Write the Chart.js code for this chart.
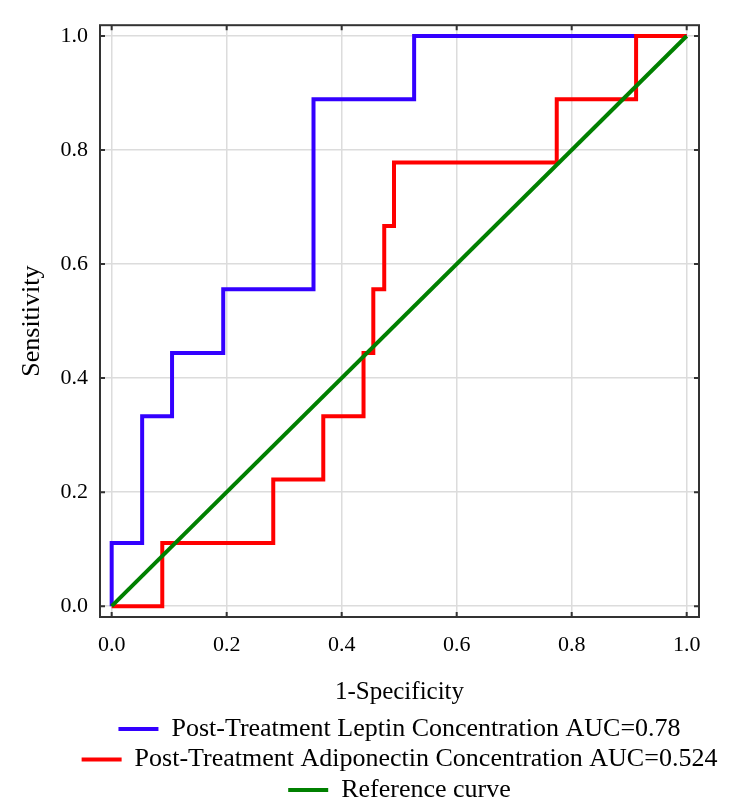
<!DOCTYPE html>
<html>
<head>
<meta charset="utf-8">
<title>ROC curves</title>
<script src="https://cdn.jsdelivr.net/npm/chart.js@4.4.1/dist/chart.umd.min.js"></script>
<style>
  body { margin: 0; background: #fff; }
  canvas { display: block; }
</style>
</head>
<body>
<canvas id="rocChart" width="729" height="811"></canvas>
<script>
// ROC corner points: 1-specificity (x) and sensitivity (y)
const leptinX = [0, 0, 0.053, 0.053, 0.105, 0.105, 0.194, 0.194, 0.351, 0.351, 0.526, 0.526, 1.0];
const leptinY = [0, 0.111, 0.111, 0.333, 0.333, 0.444, 0.444, 0.556, 0.556, 0.889, 0.889, 1.0, 1.0];

const adipoX = [0, 0.088, 0.088, 0.281, 0.281, 0.368, 0.368, 0.438, 0.438, 0.455, 0.455, 0.474, 0.474, 0.491, 0.491, 0.774, 0.774, 0.912, 0.912, 1.0];
const adipoY = [0, 0, 0.111, 0.111, 0.222, 0.222, 0.333, 0.333, 0.444, 0.444, 0.556, 0.556, 0.667, 0.667, 0.778, 0.778, 0.889, 0.889, 1.0, 1.0];

const refX = [0, 1];
const refY = [0, 1];

const tickValues = [0, 0.2, 0.4, 0.6, 0.8, 1.0];

const seriesNames = [
  'Post-Treatment Leptin Concentration AUC=0.78',
  'Post-Treatment Adiponectin Concentration AUC=0.524',
  'Reference curve'
];

function toPoints(xs, ys) {
  return xs.map((x, i) => ({ x: x, y: ys[i] }));
}

const serif = 'Liberation Serif';

// box around the plot with small inward ticks on every side
const framePlugin = {
  id: 'frame',
  afterLayout(chart) {
    // legend is centred under the plot but wider than it, so widen its (clipped) box
    const a = chart.chartArea;
    const lg = chart.legend;
    lg.left = a.left - 40;
    lg.right = a.right + 40;
    lg.width = lg.right - lg.left;
    lg.top += 2;
    lg.bottom += 2;
  },
  afterDraw(chart) {
    const { ctx, chartArea: a, scales } = chart;
    ctx.save();
    ctx.strokeStyle = '#333';
    ctx.lineWidth = 2;
    ctx.strokeRect(a.left, a.top, a.right - a.left, a.bottom - a.top);
    ctx.beginPath();
    tickValues.forEach(v => {
      const px = scales.x.getPixelForValue(v);
      ctx.moveTo(px, a.bottom); ctx.lineTo(px, a.bottom - 5);
      ctx.moveTo(px, a.top); ctx.lineTo(px, a.top + 5);
      const py = scales.y.getPixelForValue(v);
      ctx.moveTo(a.left, py); ctx.lineTo(a.left + 5, py);
      ctx.moveTo(a.right, py); ctx.lineTo(a.right - 5, py);
    });
    ctx.stroke();
    ctx.restore();
  }
};

const ctx = document.getElementById('rocChart').getContext('2d');
const rocChart = new Chart(ctx, {
  type: 'line',
  data: {
    datasets: [{
      label: seriesNames[0],
      data: toPoints(leptinX, leptinY),
      borderColor: 'rgb(51, 0, 255)',
      backgroundColor: 'rgb(51, 0, 255)',
      order: 3
    }, {
      label: seriesNames[1],
      data: toPoints(adipoX, adipoY),
      borderColor: 'rgb(255, 0, 0)',
      backgroundColor: 'rgb(255, 0, 0)',
      order: 2
    }, {
      label: seriesNames[2],
      data: toPoints(refX, refY),
      borderColor: 'rgb(0, 128, 0)',
      backgroundColor: 'rgb(0, 128, 0)',
      order: 1
    }]
  },
  options: {
    responsive: false,
    animation: false,
    elements: {
      line: { borderWidth: 4, tension: 0, fill: false },
      point: { radius: 0, borderWidth: 4 }
    },
    layout: { padding: { top: 19, right: 30, left: 0, bottom: 0 } },
    plugins: {
      tooltip: { enabled: false },
      legend: {
        position: 'bottom',
        fullSize: false,
        labels: {
          usePointStyle: true,
          pointStyle: 'line',
          pointStyleWidth: 40,
          padding: 4.5,
          color: '#000',
          font: { family: serif, size: 26 },
          sort: (a, b) => a.datasetIndex - b.datasetIndex
        }
      }
    },
    scales: {
      x: {
        type: 'linear',
        min: -0.0203,
        max: 1.0214,
        afterBuildTicks: s => { s.ticks = tickValues.map(v => ({ value: v })); },
        afterFit: s => { s.height = 92.5; },
        grid: { color: '#dcdcdc', lineWidth: 1.5, drawTicks: false },
        border: { display: false },
        ticks: {
          autoSkip: false,
          maxRotation: 0,
          padding: 15,
          color: '#000',
          font: { family: serif, size: 22 },
          callback: v => v.toFixed(1)
        },
        title: {
          display: true,
          text: '1-Specificity',
          color: '#000',
          font: { family: serif, size: 25 },
          padding: { top: 0, bottom: 2.5 }
        }
      },
      y: {
        type: 'linear',
        min: -0.019,
        max: 1.019,
        afterBuildTicks: s => { s.ticks = tickValues.map(v => ({ value: v })); },
        afterFit: s => { s.width = 100; },
        grid: { color: '#dcdcdc', lineWidth: 1.5, drawTicks: false },
        border: { display: false },
        ticks: {
          autoSkip: false,
          padding: 12,
          color: '#000',
          font: { family: serif, size: 22 },
          callback: v => v.toFixed(1)
        },
        title: {
          display: true,
          text: 'Sensitivity',
          color: '#000',
          font: { family: serif, size: 26 },
          padding: { top: 17, bottom: 0 }
        }
      }
    }
  },
  plugins: [framePlugin]
});
</script>
</body>
</html>
